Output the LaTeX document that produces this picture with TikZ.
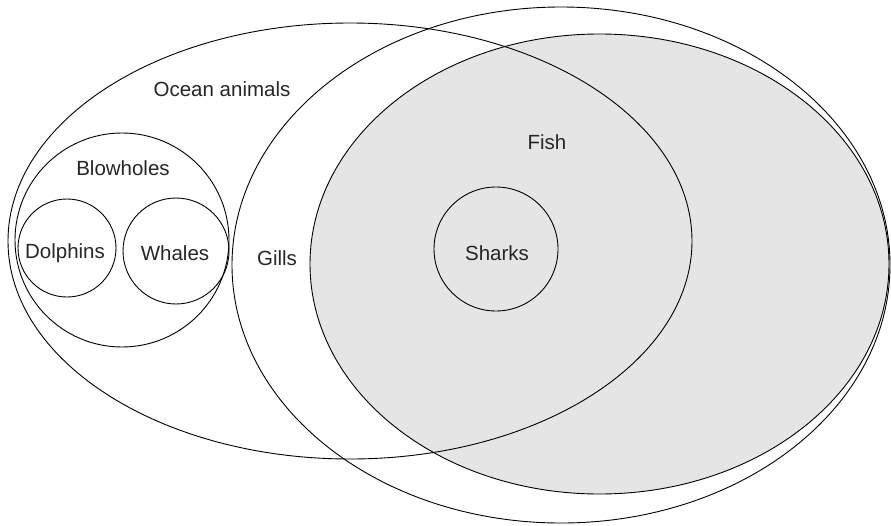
\documentclass[tikz,border=0pt]{standalone}
\usepackage{fontspec}
\setmainfont{Liberation Sans}
\usetikzlibrary{shapes.geometric}
\definecolor{fishgray}{RGB}{229,229,229}
\begin{document}
\begin{tikzpicture}[x=1pt,y=-1pt,
  set/.style={draw=black,line width=0.9pt,inner sep=0pt,outer sep=0pt},
  oval/.style={set,ellipse},
  ring/.style={set,circle},
  lbl/.style={font=\fontsize{20.5}{24}\selectfont,inner sep=0pt,text=black!85}]
\useasboundingbox (0,0) rectangle (891,525);
\fill[white] (0,0) rectangle (891,525);
% shaded Fish set
\node[oval,fill=fishgray,minimum width=579pt,minimum height=460pt] (fish) at (599.5,264) {};
% Ocean animals
\node[oval,minimum width=684pt,minimum height=436pt] (ocean) at (350,241) {};
% Gills
\node[oval,minimum width=658pt,minimum height=516pt] (gills) at (561,265) {};
% Blowholes
\node[ring,minimum size=214pt] (blow) at (122,240) {};
\node[ring,minimum size=98pt] (dolph) at (67,248) {};
\node[ring,minimum size=106pt] (whale) at (176,251) {};
% Sharks
\node[ring,minimum size=124pt] (shark) at (496,249) {};
% labels
\node[lbl] (tocean) at (222,89) {Ocean animals};
\node[lbl] (tblow) at (123,168) {Blowholes};
\node[lbl] (tdolph) at (65,253) {Dolphins};
\node[lbl] (twhale) at (175,253) {Whales};
\node[lbl] (tgills) at (277,258) {Gills};
\node[lbl] (tfish) at (547,142) {Fish};
\node[lbl] (tshark) at (497,253) {Sharks};
\end{tikzpicture}
\end{document}
